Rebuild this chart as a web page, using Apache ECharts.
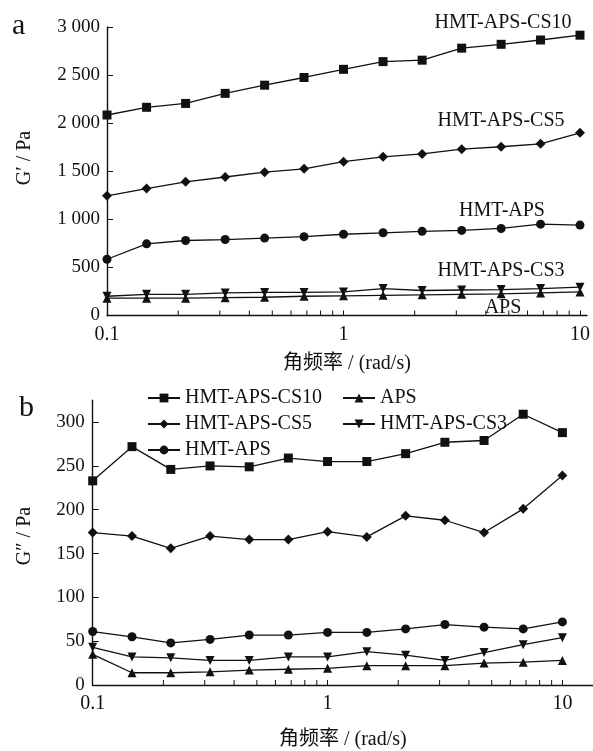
<!DOCTYPE html>
<html>
<head>
<meta charset="utf-8">
<script src="https://cdn.jsdelivr.net/npm/echarts@6/dist/echarts.min.js"></script>
<style>
  html, body { margin: 0; padding: 0; background: #fff; }
  #main { width: 593px; height: 751px; }
</style>
</head>
<body>
<div id="main"></div>
<script>
// 角频率 (rad/s)
var freq = [0.1, 0.147, 0.215, 0.316, 0.464, 0.681, 1, 1.47, 2.15, 3.16, 4.64, 6.81, 10];

// a: G' / Pa
var cs10G1 = [2085, 2165, 2205, 2310, 2395, 2475, 2560, 2640, 2655, 2780, 2820, 2865, 2915];
var cs5G1 = [1245, 1320, 1390, 1440, 1490, 1525, 1600, 1650, 1680, 1730, 1755, 1785, 1900];
var hmtG1 = [585, 745, 780, 790, 805, 820, 845, 860, 875, 885, 905, 950, 940];
var cs3G1 = [200, 220, 220, 235, 240, 240, 245, 280, 260, 265, 270, 280, 295];
var apsG1 = [180, 180, 180, 185, 190, 200, 205, 210, 215, 220, 225, 235, 245];

// b: G'' / Pa
var cs10G2 = [233, 272, 246, 250, 249, 259, 255, 255, 264, 277, 279, 309, 288];
var cs5G2 = [174, 170, 156, 170, 166, 166, 175, 169, 193, 188, 174, 201, 239];
var hmtG2 = [61, 55, 48, 52, 57, 57, 60, 60, 64, 69, 66, 64, 72];
var cs3G2 = [43, 32, 31, 28, 28, 32, 32, 38, 34, 28, 37, 46, 54];
var apsG2 = [35, 14, 14, 15, 17, 18, 19, 22, 22, 22, 25, 26, 28];

// 刻度
var xMajorTicks = [0.1, 1, 10];
var xMinorTicks = [0.2, 0.3, 0.4, 0.5, 0.6, 0.7, 0.8, 0.9, 2, 3, 4, 5, 6, 7, 8, 9];
var g2Ticks = [0, 50, 100, 150, 200, 250, 300];

var names = ['HMT-APS-CS10', 'HMT-APS-CS5', 'HMT-APS', 'APS', 'HMT-APS-CS3'];

(function () {
  var myChart = echarts.init(document.getElementById('main'));
  var font = '"Liberation Serif", "Noto Sans CJK SC", serif';
  var ink = '#111';

  function pairs(ys) {
    return freq.map(function (f, i) { return [f, ys[i]]; });
  }

  // 线条 + 标记
  function lineSeries(name, ys, gi, symbol, size, rotate, tag) {
    var s = {
      name: name,
      type: 'line',
      xAxisIndex: gi,
      yAxisIndex: gi,
      data: pairs(ys),
      symbol: symbol,
      symbolSize: size,
      symbolRotate: rotate || 0,
      showAllSymbol: true,
      clip: false,
      lineStyle: { color: ink, width: 1.3 },
      itemStyle: { color: ink },
      emphasis: { disabled: true },
      z: 3
    };
    // 图a 右端的系列名称
    if (tag) {
      s.label = {
        show: true,
        position: 'inside',
        offset: tag,
        align: 'center',
        verticalAlign: 'middle',
        fontFamily: font,
        fontSize: 20,
        color: ink,
        formatter: function (p) { return p.dataIndex === freq.length - 1 ? name : ''; }
      };
    }
    return s;
  }

  // 对数轴次刻度
  function minorSeries(gi) {
    return {
      type: 'custom',
      xAxisIndex: gi,
      yAxisIndex: gi,
      silent: true,
      clip: false,
      data: xMinorTicks.map(function (v) { return [v, 0]; }),
      renderItem: function (params, api) {
        var p = api.coord([api.value(0), api.value(1)]);
        return {
          type: 'line',
          shape: { x1: p[0], y1: p[1], x2: p[0], y2: p[1] - 5 },
          style: { stroke: ink, lineWidth: 1 }
        };
      },
      z: 1
    };
  }

  function xAxis(gi, max, gap) {
    return {
      type: 'log',
      logBase: 10,
      gridIndex: gi,
      min: 0.1,
      max: max,
      name: '角频率 / (rad/s)',
      nameLocation: 'middle',
      nameGap: gap,
      nameTextStyle: { fontFamily: font, fontSize: 20, color: ink },
      axisLine: { lineStyle: { color: ink, width: 1.4 } },
      axisTick: { inside: true, length: 5, lineStyle: { color: ink }, customValues: xMajorTicks },
      axisLabel: {
        customValues: xMajorTicks,
        margin: 9,
        fontFamily: font,
        fontSize: 20,
        color: ink,
        formatter: function (v) { return String(v); }
      },
      splitLine: { show: false },
      minorTick: { show: false }
    };
  }

  var legendText = { fontFamily: font, fontSize: 20, color: ink };

  var option = {
    animation: false,
    backgroundColor: '#fff',
    grid: [
      { left: 107, right: 0, top: 27, bottom: 435.5 },
      { left: 92.7, right: 0, top: 400.2, bottom: 63.3 }
    ],
    xAxis: [xAxis(0, 10.7, 38), xAxis(1, 13.5, 45)],
    yAxis: [
      {
        type: 'value',
        gridIndex: 0,
        min: 0,
        max: 3000,
        interval: 500,
        axisLine: { show: true, lineStyle: { color: ink, width: 1.4 } },
        axisTick: { show: true, inside: true, length: 6, lineStyle: { color: ink } },
        axisLabel: {
          margin: 7,
          fontFamily: font,
          fontSize: 19,
          color: ink,
          formatter: function (v) {
            if (v < 1000) return String(v);
            var r = String(v % 1000);
            while (r.length < 3) r = '0' + r;
            return Math.floor(v / 1000) + ' ' + r;
          }
        },
        splitLine: { show: false }
      },
      {
        type: 'value',
        gridIndex: 1,
        min: 0,
        max: 325,
        interval: 50,
        axisLine: { show: true, lineStyle: { color: ink, width: 1.4 } },
        axisTick: { show: true, inside: true, length: 6, lineStyle: { color: ink }, customValues: g2Ticks },
        axisLabel: { customValues: g2Ticks, margin: 8, fontFamily: font, fontSize: 19, color: ink },
        splitLine: { show: false }
      }
    ],
    legend: [
      {
        data: names.slice(0, 3),
        orient: 'vertical',
        left: 142,
        top: 383,
        itemGap: 6,
        itemWidth: 32,
        itemHeight: 11,
        textStyle: legendText,
        selectedMode: false
      },
      {
        data: names.slice(3),
        orient: 'vertical',
        left: 337,
        top: 383,
        itemGap: 6,
        itemWidth: 32,
        itemHeight: 11,
        textStyle: legendText,
        selectedMode: false
      }
    ],
    graphic: [
      { type: 'text', left: 12, top: 11, style: { text: 'a', font: '30px ' + font, fill: ink } },
      { type: 'text', left: 19, top: 393, style: { text: 'b', font: '30px ' + font, fill: ink } },
      {
        type: 'text', x: 25, y: 158, rotation: Math.PI / 2,
        style: { text: 'G\u2032 / Pa', font: '20px ' + font, fill: ink, align: 'center', verticalAlign: 'middle' }
      },
      {
        type: 'text', x: 25, y: 536, rotation: Math.PI / 2,
        style: { text: 'G\u2033 / Pa', font: '20px ' + font, fill: ink, align: 'center', verticalAlign: 'middle' }
      }
    ],
    series: [
      lineSeries(names[0], cs10G1, 0, 'rect', 9, 0, [-77, -12]),
      lineSeries(names[1], cs5G1, 0, 'diamond', 10, 0, [-79, -12]),
      lineSeries(names[2], hmtG1, 0, 'circle', 9, 0, [-78, -14]),
      lineSeries(names[3], apsG1, 0, 'triangle', 9, 0, [-77, 16]),
      lineSeries(names[4], cs3G1, 0, 'triangle', 9, 180, [-79, -16]),
      lineSeries(names[0], cs10G2, 1, 'rect', 9),
      lineSeries(names[1], cs5G2, 1, 'diamond', 10),
      lineSeries(names[2], hmtG2, 1, 'circle', 9),
      lineSeries(names[3], apsG2, 1, 'triangle', 9),
      lineSeries(names[4], cs3G2, 1, 'triangle', 9, 180),
      minorSeries(0),
      minorSeries(1)
    ]
  };

  myChart.setOption(option);
  window.addEventListener('resize', function () {
    myChart.resize();
  });
})();
</script>
</body>
</html>
